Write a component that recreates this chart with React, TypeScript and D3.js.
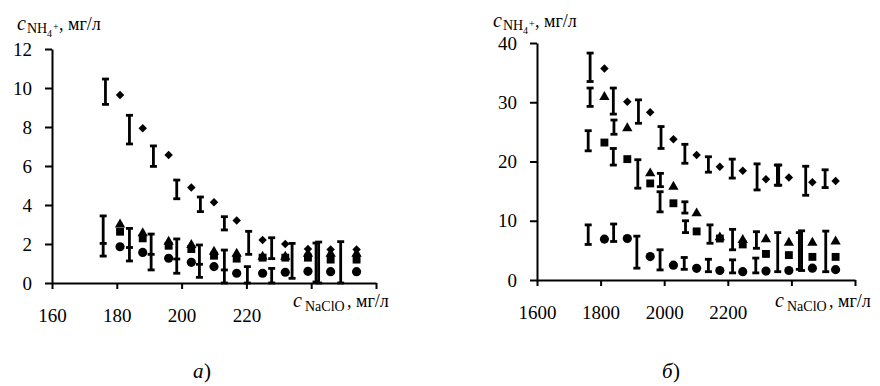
import React, { useEffect, useRef } from 'react';
import * as d3 from 'd3';

const FONT = 'Liberation Serif, Times New Roman, DejaVu Serif, serif';

// панель а): c NaClO 160–260 мг/л
const xA = [181, 188, 196, 203, 210, 217, 225, 232, 239, 246, 254];
const diamondA = [9.64, 7.93, 6.56, 4.9, 4.14, 3.2, 2.2, 2.0, 1.75, 1.72, 1.72];
const triangleA = [3.0, 2.55, 2.12, 1.95, 1.6, 1.5, 1.35, 1.35, 1.5, 1.5, 1.5];
const squareA = [2.63, 2.29, 1.91, 1.74, 1.4, 1.25, 1.3, 1.3, 1.3, 1.2, 1.2];
const circleA = [1.86, 1.57, 1.27, 1.06, 0.84, 0.5, 0.5, 0.55, 0.6, 0.58, 0.58];

// погрешности а)
const barXA = [176.5, 183.9, 191.3, 198.5, 205.8, 213.2, 220.7, 227.8, 234.1, 241.5, 242.3, 249.1,
  175.8, 183.9, 190.6, 198.5, 205.5, 213.2, 220.3, 227.8];
const barLoA = [9.16, 7.13, 5.98, 4.32, 3.66, 2.72, 1.47, 1.25, 0.24, 0.05, 0, 0,
  1.38, 1.13, 0.67, 0.5, 0.29, 0, 0, 0];
const barHiA = [10.46, 8.6, 7.03, 5.28, 4.41, 3.4, 2.65, 2.32, 2.03, 2.05, 2.1, 2.12,
  3.44, 2.8, 2.51, 2.26, 1.95, 1.69, 0.84, 0.75];
const barMidA = [null, null, null, null, null, null, null, null, null, null, null, null,
  2.03, 1.82, 1.47, 1.23, 0.96, 0.67, null, null];

// панель б): c NaClO 1600–2600 мг/л
const xB = [1812, 1884, 1956, 2029, 2102, 2175, 2247, 2320, 2392, 2466, 2539];
const diamondB = [35.7, 30.1, 28.3, 23.75, 21.1, 19.1, 18.45, 17.0, 17.3, 16.5, 16.7];
const triangleB = [30.9, 25.6, 18.0, 15.75, 11.25, 7.2, 6.75, 6.87, 6.3, 6.3, 6.5];
const squareB = [23.2, 20.4, 16.3, 12.95, 8.2, 7.0, 6.0, 4.4, 4.2, 3.9, 3.9];
const circleB = [6.9, 7.0, 3.95, 2.5, 1.97, 1.6, 1.4, 1.5, 1.6, 2.0, 1.75];

// погрешности б)
const barXB = [1767, 1840, 1919, 1990, 2065, 2139, 2214, 2292, 2356, 2360, 2445, 2506,
  1767, 1761, 1842, 1840, 1917, 1988, 1987, 2065, 2067, 2144, 2215, 2290, 2357, 2425, 2432, 2508,
  1761, 1841, 1914, 1987, 2063, 2139, 2215, 2288];
const barLoB = [33.5, 28.0, 26.45, 22.2, 19.7, 18.2, 17.2, 15.2, 16.0, 16.0, 14.3, 15.6,
  29.3, 21.8, 24.6, 19.4, 15.5, 15.75, 11.5, 11.3, 8.0, 6.2, 5.1, 5.35, 1.4, 1.8, 1.6, 1.4,
  6.0, 6.5, 2.0, 1.7, 1.8, 1.4, 1.2, 1.2];
const barHiB = [38.3, 32.4, 30.4, 25.9, 22.9, 20.8, 20.4, 19.6, 19.4, 19.4, 19.2, 18.6,
  32.4, 25.2, 27.0, 22.2, 20.3, 18.0, 14.9, 13.2, 10.0, 9.3, 8.55, 8.15, 8.0, 8.0, 8.3, 8.25,
  9.3, 9.45, 7.4, 5.1, 3.8, 3.5, 3.4, 3.7];

const yTicksA = [0, 2, 4, 6, 8, 10, 12];
const xTicksA = [160, 180, 200, 220, 240, 260];
const xLabelsA = [160, 180, 200, 220];
const yTicksB = [0, 10, 20, 30, 40];
const xTicksB = [1600, 1800, 2000, 2200, 2400, 2600];
const xLabelsB = [1600, 1800, 2000, 2200];

function drawPanel(svg, cfg) {
  const g = svg.append('g');
  const x = d3.scaleLinear().domain(cfg.xDomain).range(cfg.xRange);
  const y = d3.scaleLinear().domain(cfg.yDomain).range(cfg.yRange);

  g.append('g')
    .attr('transform', `translate(${cfg.xRange[0]},0)`)
    .call(d3.axisLeft(y).tickValues(cfg.yTicks).tickSize(7).tickPadding(13).tickSizeOuter(0));
  g.append('g')
    .attr('transform', `translate(0,${cfg.yRange[0]})`)
    .call(d3.axisBottom(x).tickValues(cfg.xTicks).tickSize(6).tickPadding(20).tickSizeOuter(0)
      .tickFormat(d => (cfg.xLabels.includes(d) ? String(d) : '')));
  g.selectAll('.domain, .tick line').attr('stroke', '#000').attr('stroke-width', 2);
  g.selectAll('.tick text').attr('font-family', FONT).attr('font-size', 19).attr('fill', '#000');

  // погрешности
  const bars = d3.range(cfg.barX.length).map(i => ({
    x: cfg.barX[i], lo: cfg.barLo[i], hi: cfg.barHi[i], mid: cfg.barMid ? cfg.barMid[i] : null,
  }));
  const eb = g.append('g').attr('stroke', '#000').attr('stroke-width', 2.8).attr('fill', 'none');
  const cap = 3.5;
  bars.forEach(b => {
    const bx = x(b.x);
    eb.append('line').attr('x1', bx).attr('x2', bx).attr('y1', y(b.lo)).attr('y2', y(b.hi));
    eb.append('line').attr('x1', bx - cap).attr('x2', bx + cap).attr('y1', y(b.lo)).attr('y2', y(b.lo));
    eb.append('line').attr('x1', bx - cap).attr('x2', bx + cap).attr('y1', y(b.hi)).attr('y2', y(b.hi));
    if (b.mid != null) {
      eb.append('line').attr('x1', bx - cap).attr('x2', bx + cap).attr('y1', y(b.mid)).attr('y2', y(b.mid));
    }
  });

  // точки
  const series = [
    { vals: cfg.circle, type: d3.symbolCircle, size: 66 },
    { vals: cfg.square, type: d3.symbolSquare, size: 62 },
    { vals: cfg.triangle, type: d3.symbolTriangle, size: 46 },
    { vals: cfg.diamond, type: d3.symbolDiamond2, size: 46 },
  ];
  series.forEach(s => {
    g.append('g').selectAll('path')
      .data(s.vals)
      .enter().append('path')
      .attr('d', d3.symbol().type(s.type).size(s.size))
      .attr('transform', (d, i) => `translate(${x(cfg.xs[i])},${y(d)})`)
      .attr('fill', '#000');
  });

  // подписи осей
  const t = (tx, ty, str, size, italic) => g.append('text')
    .attr('x', tx).attr('y', ty).attr('font-family', FONT).attr('font-size', size)
    .attr('font-style', italic ? 'italic' : 'normal').attr('fill', '#000').text(str);
  const yx = cfg.yTitleX;
  const yb = cfg.yTitleY;
  t(yx, yb, 'c', 20, true);
  t(yx + 10, yb + 3, 'NH', 14, false);
  t(yx + 30, yb + 7, '4', 10, false);
  t(yx + 36, yb, '+', 10, false);
  t(yx + 42, yb, ', мг/л', 18, false);
  const xx = cfg.xTitleX;
  t(xx, 307, 'c', 20, true);
  t(xx + 12, 311, 'NaClO', 14, false);
  t(xx + 54, 307, ', мг/л', 18, false);
  t(cfg.capX, 378, cfg.caption, 21, true);
  t(cfg.capX + 11, 378, ')', 21, false);
}

export default function App() {
  const ref = useRef(null);
  useEffect(() => {
    const svg = d3.select(ref.current);
    svg.selectAll('*').remove();
    drawPanel(svg, {
      xDomain: [160, 260], xRange: [52, 376], yDomain: [0, 12], yRange: [283, 49],
      yTicks: yTicksA, xTicks: xTicksA, xLabels: xLabelsA,
      xs: xA, diamond: diamondA, triangle: triangleA, square: squareA, circle: circleA,
      barX: barXA, barLo: barLoA, barHi: barHiA, barMid: barMidA,
      yTitleX: 17, yTitleY: 30, xTitleX: 293, capX: 193, caption: 'а',
    });
    drawPanel(svg, {
      xDomain: [1600, 2600], xRange: [537, 855], yDomain: [0, 40], yRange: [280, 43],
      yTicks: yTicksB, xTicks: xTicksB, xLabels: xLabelsB,
      xs: xB, diamond: diamondB, triangle: triangleB, square: squareB, circle: circleB,
      barX: barXB, barLo: barLoB, barHi: barHiB, barMid: null,
      yTitleX: 493, yTitleY: 27, xTitleX: 775, capX: 662, caption: 'б',
    });
  }, []);
  return (
    <svg ref={ref} width={880} height={386}
      style={{ position: 'absolute', left: 0, top: 0, background: '#fff' }} />
  );
}
